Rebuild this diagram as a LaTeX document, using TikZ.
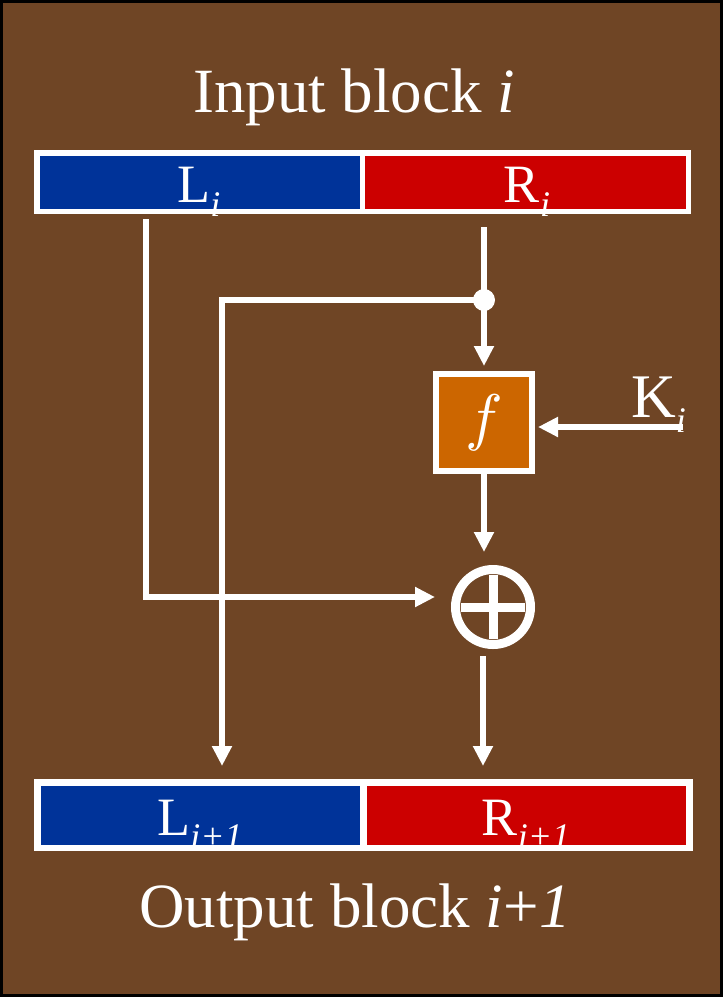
\documentclass[tikz,border=0pt]{standalone}
\usepackage{fontspec}
\setmainfont{Liberation Serif}
\usetikzlibrary{arrows.meta}
\definecolor{bgbrown}{HTML}{6F4525}
\definecolor{lblue}{HTML}{003399}
\definecolor{rred}{HTML}{CC0000}
\definecolor{forange}{HTML}{CC6600}
\newcommand\mysub[2]{\raisebox{-#1}{\fontsize{36}{36}\selectfont\itshape #2}}
\begin{document}
\begin{tikzpicture}[x=1pt,y=-1pt,
  half/.style={draw=white, outer sep=0pt, inner sep=0pt},
  lbl/.style={text=white, anchor=base, inner sep=0pt, font=\fontsize{54}{54}\selectfont},
  title/.style={text=white, anchor=base, inner sep=0pt, font=\fontsize{63}{63}\selectfont},
  wire/.style={draw=white, line width=6pt, line join=miter},
  arr/.style={wire, -{Triangle[length=20pt,width=19pt]}},
  frame/.style={draw=white}]
\useasboundingbox (0,0) rectangle (723,997);
\fill[bgbrown, draw=black, line width=3pt] (1.5,1.5) rectangle (721.5,995.5);

% top block
\node[half, fill=lblue, line width=5.5pt, minimum width=325.5pt, minimum height=58.5pt] (Li) at (199.75,182) {};
\node[half, fill=rred, line width=5.5pt, minimum width=325.75pt, minimum height=58.5pt] (Ri) at (525.4,182) {};
\node[lbl] (tLi) at (199,202) {L\mysub{14pt}{i}};
\node[lbl] (tRi) at (527,202) {R\mysub{14pt}{i}};
\draw[frame, line width=5.5pt] (Li.south west) rectangle (Li.north east);
\draw[frame, line width=5.5pt] (Ri.south west) rectangle (Ri.north east);

% bottom block
\node[half, fill=lblue, line width=6.5pt, minimum width=326.25pt, minimum height=65.5pt] (Lo) at (200.4,815) {};
\node[half, fill=rred, line width=6.5pt, minimum width=326.25pt, minimum height=65.5pt] (Ro) at (526.6,815) {};
\node[lbl] (tLo) at (200,835) {L\mysub{13pt}{i+1}};
\node[lbl] (tRo) at (526,835) {R\mysub{13pt}{i+1}};
\draw[frame, line width=6.5pt] (Lo.south west) rectangle (Lo.north east);
\draw[frame, line width=6.5pt] (Ro.south west) rectangle (Ro.north east);

% titles
\node[title] (tin) at (354,112) {Input block \textit{i}};
\node[title] (tout) at (355,927) {Output block \textit{i}+\textit{1}};

% f box, key, xor, dot
\node[draw=white, fill=forange, line width=6pt, outer sep=0pt, inner sep=0pt,
      minimum size=96.5pt, text=white] (F) at (484,422.5) {\scalebox{6.3}{$f$}};
\node[text=white, anchor=base west, inner sep=0pt, font=\fontsize{62}{62}\selectfont] (K) at (631,417) {K\mysub{15pt}{i}};
\node[circle, draw=white, line width=9pt, minimum size=75pt, inner sep=0pt, outer sep=0pt] (X) at (493,607) {};
\draw[white, line width=9pt] ([xshift=-32pt]X.center) -- ([xshift=32pt]X.center);
\draw[white, line width=9pt] ([yshift=-32pt]X.center) -- ([yshift=32pt]X.center);
\node[circle, fill=white, minimum size=22pt, inner sep=0pt] (D) at (484,300) {};

% coordinates
\coordinate (ls) at (146,219);
\coordinate (xin) at (435,597);
\coordinate (rs) at (484,227);
\coordinate (fin) at (484,366);
\coordinate (fout) at (484,474);
\coordinate (xtop) at (484,552);
\coordinate (kst) at (683,427);
\coordinate (kin) at (538,427);
\coordinate (loin) at (222,766);
\coordinate (xout) at (483,656);
\coordinate (roin) at (483,766);

% connectors
\draw[wire] (rs) -- (D.center);
\draw[arr] (D.center) -- (fin);
\draw[arr] (D.center) -| (loin);
\draw[arr] (ls) |- (xin);
\draw[arr] (fout) -- (xtop);
\draw[arr] (kst) -- (kin);
\draw[arr] (xout) -- (roin);
\end{tikzpicture}
\end{document}
